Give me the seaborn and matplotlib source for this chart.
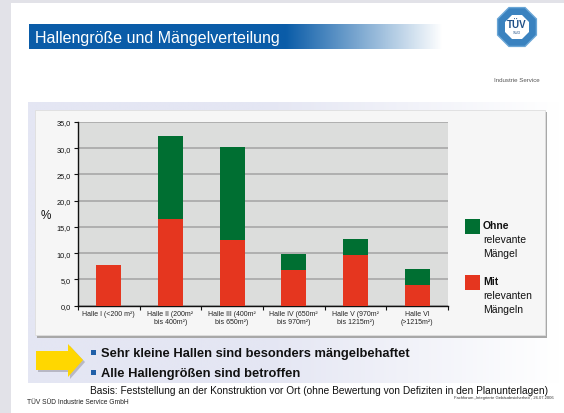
import numpy as np
import pandas as pd
import matplotlib
matplotlib.use("Agg")
import matplotlib.pyplot as plt
import seaborn as sns
from matplotlib.patches import Rectangle, RegularPolygon, Polygon
from matplotlib.ticker import FuncFormatter, FixedLocator

# ---------------- data ----------------
categories = ["Halle I (<200 m²)", "Halle II (200m²\nbis 400m²)", "Halle III (400m²\nbis 650m²)",
              "Halle IV (650m²\nbis 970m²)", "Halle V (970m²\nbis 1215m²)", "Halle VI\n(>1215m²)"]
mit_maengel = [7.8, 16.5, 12.5, 6.8, 9.7, 4.0]
ohne_maengel = [0.0, 15.9, 17.8, 3.1, 3.0, 3.0]
y_ticks = [0, 5, 10, 15, 20, 25, 30, 35]

title = "Hallengröße und Mängelverteilung"
bullets = ["Sehr kleine Hallen sind besonders mängelbehaftet", "Alle Hallengrößen sind betroffen"]
basis = "Basis: Feststellung an der Konstruktion vor Ort (ohne Bewertung von Defiziten in den Planunterlagen)"
footer_left = "TÜV SÜD Industrie Service GmbH"
footer_right = "Fachforum „Integrierte Gebäudesicherheit“, 26.07.2006"

df = pd.DataFrame({"cat": categories, "mit": mit_maengel, "ohne": ohne_maengel})
df["total"] = df["mit"] + df["ohne"]

RED = "#e5361f"
GREEN = "#006f32"
BLUE = "#0a5ca8"

sns.set_theme(style="white")
plt.rcParams["font.family"] = ["Liberation Sans", "DejaVu Sans"]

W, H = 564, 414
fig = plt.figure(figsize=(W / 100, H / 100), dpi=100)
fig.patch.set_facecolor("white")

# background axes in pixel coordinates
bg = fig.add_axes([0, 0, 1, 1], zorder=0)
bg.set_xlim(0, W)
bg.set_ylim(H, 0)
bg.axis("off")

# outer grey frame
bg.add_patch(Rectangle((0, 0), W, 4, color="#e2e2e8", lw=0))
bg.add_patch(Rectangle((0, 0), 11, H, color="#e2e2e8", lw=0))

# title bar gradient
grad = np.ones((1, 256, 4))
x = np.linspace(0, 1, 256)
c0 = np.array(matplotlib.colors.to_rgb(BLUE))
t = np.clip((x - 0.62) / 0.38, 0, 1)
for i in range(3):
    grad[0, :, i] = c0[i] * (1 - t) + 1.0 * t
bg.imshow(grad, extent=(29, 443, 50, 25), aspect="auto", zorder=1)
bg.text(35, 38, title, color="white", fontsize=11.5, va="center", ha="left", zorder=2)

# logo
bg.add_patch(RegularPolygon((517, 28), 8, radius=21, orientation=np.pi / 8,
                            facecolor="#3a82bf", edgecolor="#6aa6d6", lw=1, zorder=2))
bg.add_patch(RegularPolygon((517, 28), 8, radius=13, orientation=np.pi / 8,
                            facecolor="white", edgecolor="none", zorder=3))
bg.text(517, 25, "TÜV", fontsize=7, fontweight="bold", color="#1f4f86", ha="center", va="center", zorder=4)
bg.text(517, 33, "SÜD", fontsize=2.8, color="#1f4f86", ha="center", va="center", zorder=4)
bg.text(517, 80, "Industrie Service", fontsize=4.4, color="#555555", ha="center", va="center", zorder=4)

# lavender area gradient
lav = np.ones((1, 256, 4))
c1 = np.array(matplotlib.colors.to_rgb("#e4e6f3"))
t2 = np.clip((x - 0.45) / 0.55, 0, 1)
for i in range(3):
    lav[0, :, i] = c1[i] * (1 - t2) + 1.0 * t2
bg.imshow(lav, extent=(28, 560, 384, 103), aspect="auto", zorder=1)

# chart box with shadow
bg.add_patch(Rectangle((37, 113), 510, 226, color="#a8a8a8", lw=0, zorder=2))
bg.add_patch(Rectangle((35, 111), 510, 225, facecolor="#f6f6f6", edgecolor="#dedede", lw=0.6, zorder=3))

# legend
bg.add_patch(Rectangle((465, 220), 15, 15, color=GREEN, lw=0, zorder=4))
bg.text(483, 226, "Ohne", fontsize=7.5, fontweight="bold", va="center", ha="left", zorder=5, color="#111111")
bg.text(483, 240, "relevante", fontsize=7.5, va="center", ha="left", zorder=5, color="#111111")
bg.text(483, 254, "Mängel", fontsize=7.5, va="center", ha="left", zorder=5, color="#111111")
bg.add_patch(Rectangle((465, 276), 15, 15, color=RED, lw=0, zorder=4))
bg.text(483, 282, "Mit", fontsize=7.5, fontweight="bold", va="center", ha="left", zorder=5, color="#111111")
bg.text(483, 296, "relevanten", fontsize=7.5, va="center", ha="left", zorder=5, color="#111111")
bg.text(483, 310, "Mängeln", fontsize=7.5, va="center", ha="left", zorder=5, color="#111111")

# "%" label
bg.text(46, 216, "%", fontsize=8.5, va="center", ha="center", zorder=5, color="#111111")

# arrow with shadow
arrow = [(36, 352), (68, 352), (68, 345), (83, 361), (68, 378), (68, 371), (36, 371)]
shadow = [(px + 2, py + 2) for px, py in arrow]
bg.add_patch(Polygon(shadow, closed=True, color="#b8b8c4", lw=0, zorder=4))
bg.add_patch(Polygon(arrow, closed=True, color="#ffd700", lw=0, zorder=5))

# bullets
for yy, txt in zip([354, 374], bullets):
    bg.add_patch(Rectangle((91, yy - 3), 5, 5, color="#1f5fa8", lw=0, zorder=5))
    bg.text(101, yy, txt, fontsize=9.3, fontweight="bold", va="center", ha="left", zorder=5, color="#111111")

bg.text(90, 391, basis, fontsize=7.3, va="center", ha="left", zorder=5, color="#111111")
bg.text(27, 403, footer_left, fontsize=4.8, va="center", ha="left", zorder=5, color="#222222")
bg.text(554, 398, footer_right, fontsize=3.0, va="center", ha="right", zorder=5, color="#333333")

# ---------------- chart ----------------
ax = fig.add_axes([78 / W, 1 - 306.7 / H, 370 / W, 183.7 / H], zorder=2)
ax.set_facecolor("#dcdddc")
sns.barplot(data=df, x="cat", y="total", color=GREEN, saturation=1, width=0.41, ax=ax,
            linewidth=0, edgecolor="none", zorder=3)
sns.barplot(data=df, x="cat", y="mit", color=RED, saturation=1, width=0.41, ax=ax,
            linewidth=0, edgecolor="none", zorder=4)
ax.set_xlim(-0.5, len(categories) - 0.5)
ax.set_ylim(0, 35)
ax.set_yticks(y_ticks)
ax.yaxis.set_major_formatter(FuncFormatter(lambda v, p: f"{v:.1f}".replace(".", ",")))
ax.grid(axis="y", color="#acacac", lw=1.3, zorder=1)
ax.set_axisbelow(True)
ax.set_xlabel("")
ax.set_ylabel("")
for s in ["top", "right"]:
    ax.spines[s].set_visible(False)
ax.spines["left"].set_color("#111111")
ax.spines["bottom"].set_color("#111111")
ax.spines["left"].set_linewidth(1.0)
ax.spines["bottom"].set_linewidth(1.0)
ax.tick_params(axis="y", which="major", direction="out", length=3, width=0.8, labelsize=5.3,
               left=True, pad=2, colors="#111111")
ax.tick_params(axis="x", which="major", length=0, labelsize=5.0, pad=3, colors="#222222")
ax.xaxis.set_minor_locator(FixedLocator(np.arange(-0.5, len(categories), 1.0)))
ax.tick_params(axis="x", which="minor", direction="out", length=3, width=0.8, bottom=True, color="#111111")
for lbl in ax.get_xticklabels():
    lbl.set_linespacing(1.2)

fig.savefig("out.png", dpi=100)
